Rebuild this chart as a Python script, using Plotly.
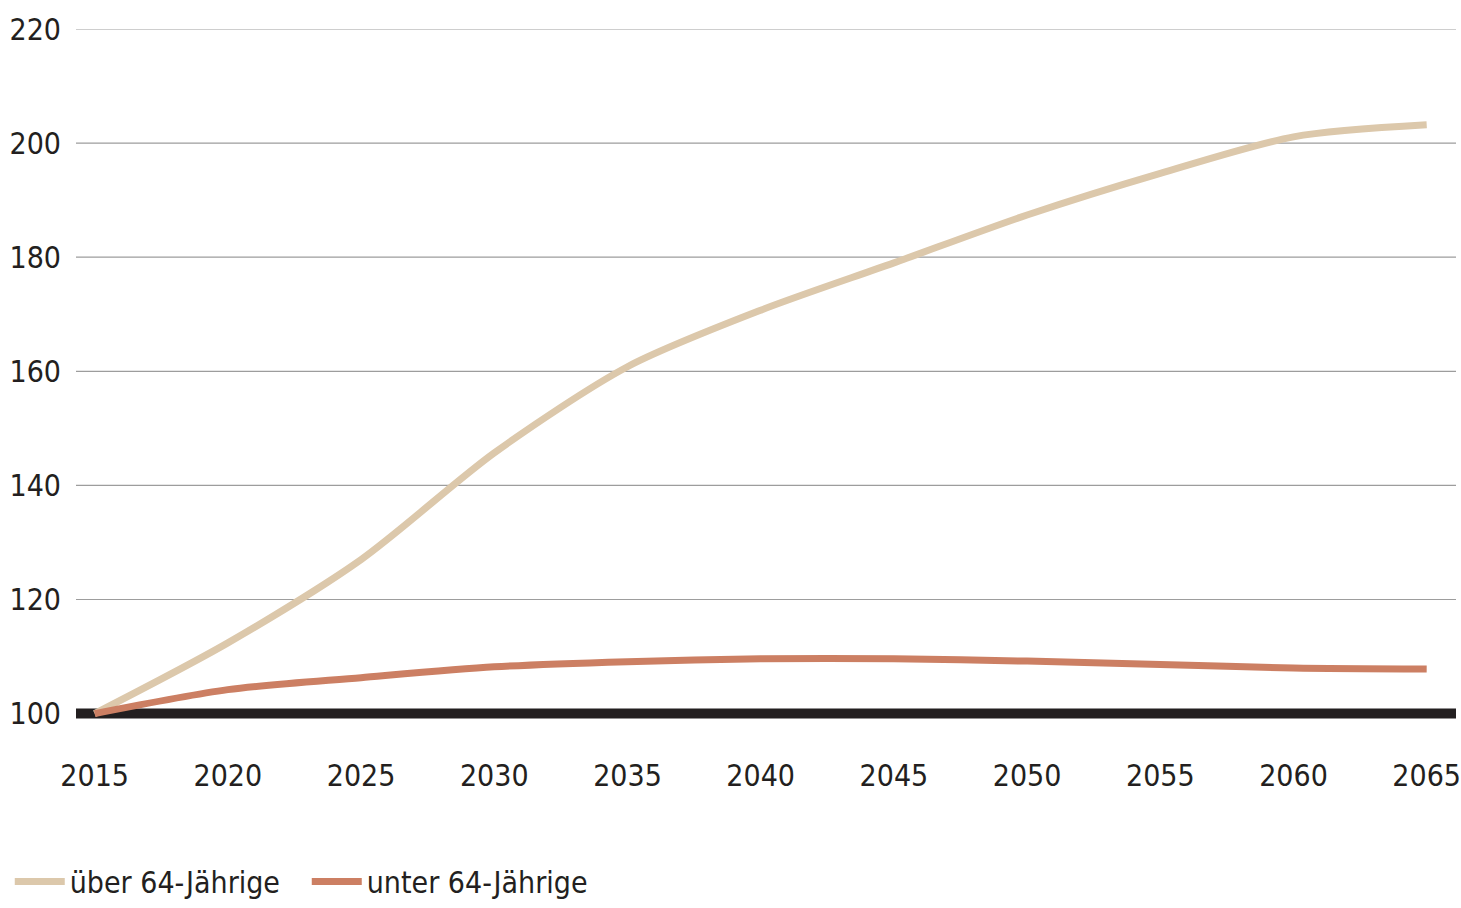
import plotly.graph_objects as go

# Index values (2015 = 100)
years = [2015, 2020, 2025, 2030, 2035, 2040, 2045, 2050, 2055, 2060, 2065]
ueber_64 = [100, 112.4, 127.0, 145.7, 160.8, 170.7, 179.0, 187.4, 194.7, 201.1, 203.2]
unter_64 = [100, 104.2, 106.3, 108.2, 109.1, 109.6, 109.6, 109.2, 108.6, 108.0, 107.8]
series_names = ["über 64-Jährige", "unter 64-Jährige"]
y_ticks = [100, 120, 140, 160, 180, 200, 220]
baseline = 100

FONT = "DejaVu Sans Condensed, Liberation Sans Narrow, sans-serif"
TEXT = "#231f20"
SIZE = 30

fig = go.Figure()
fig.add_trace(go.Scatter(
    x=years, y=ueber_64, name=series_names[0], mode="lines",
    line=dict(color="#dcc8ab", width=7, shape="spline", smoothing=0.8),
))
fig.add_trace(go.Scatter(
    x=years, y=unter_64, name=series_names[1], mode="lines",
    line=dict(color="#cc7f63", width=7, shape="spline", smoothing=0.8),
))

# horizontal grid lines (all but the baseline) under the series
for v in y_ticks:
    if v == baseline:
        continue
    fig.add_shape(type="line", xref="paper", x0=0, x1=1, yref="y", y0=v, y1=v,
                  line=dict(color="#9d9d9d", width=1.2), layer="below")

# heavy baseline at the index value 100
fig.add_shape(type="line", xref="paper", x0=0, x1=1, yref="y", y0=baseline, y1=baseline,
              line=dict(color="#231f20", width=10), layer="below")

fig.update_layout(
    width=1461, height=908,
    margin=dict(l=76, r=5, t=29, b=183, autoexpand=False),
    paper_bgcolor="white", plot_bgcolor="white",
    font=dict(family=FONT, color=TEXT, size=SIZE),
    showlegend=True,
    legend=dict(orientation="h", x=-0.048, xanchor="left", y=-0.225, yanchor="middle",
                font=dict(family=FONT, size=SIZE, color=TEXT),
                itemwidth=50, entrywidth=232, entrywidthmode="pixels",
                tracegroupgap=0, bgcolor="rgba(0,0,0,0)"),
)
fig.update_xaxes(
    range=[2014.3, 2066.1], tickmode="array", tickvals=years,
    ticktext=[str(y) for y in years],
    showgrid=False, zeroline=False, showline=False, ticks="",
    ticklabelstandoff=30, automargin=False, ticklabeloverflow="allow",
    tickfont=dict(family=FONT, size=SIZE, color=TEXT),
)
fig.update_yaxes(
    range=[98, 220], tickmode="array", tickvals=y_ticks,
    ticktext=[str(v) for v in y_ticks],
    showgrid=False, zeroline=False, showline=False, ticks="",
    ticklabelstandoff=14, automargin=False,
    tickfont=dict(family=FONT, size=SIZE, color=TEXT),
)

fig.write_html("out.html")
